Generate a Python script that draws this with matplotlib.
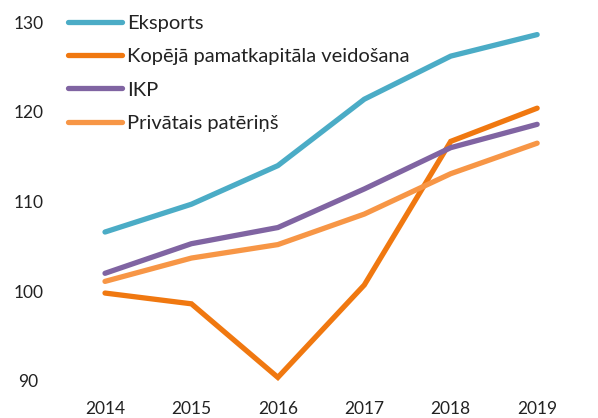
import matplotlib.pyplot as plt

years = [2014, 2015, 2016, 2017, 2018, 2019]
eksports = [106.6, 109.7, 114.0, 121.4, 126.2, 128.6]
kapitals = [99.8, 98.6, 90.4, 100.7, 116.7, 120.4]
ikp = [102.0, 105.3, 107.1, 111.4, 116.0, 118.6]
paterins = [101.1, 103.7, 105.2, 108.6, 113.1, 116.5]

labels = ["Eksports", "Kopējā pamatkapitāla veidošana", "IKP", "Privātais patēriņš"]
colors = ["#4BACC6", "#F07810", "#8064A2", "#F79646"]

plt.rcParams['font.family'] = ['Lato', 'DejaVu Sans']

fig = plt.figure(figsize=(5.98, 4.18), dpi=100)
ax = fig.add_axes([70 / 598, 1 - 395 / 418, 500 / 598, 385 / 418])

for vals, lab, col in zip([eksports, kapitals, ikp, paterins], labels, colors):
    ax.plot(years, vals, color=col, lw=3.8, label=lab, solid_capstyle='round',
            solid_joinstyle='miter')

ax.set_xlim(2013.595, 2019.38)
ax.set_ylim(88.44, 131.34)
ax.set_yticks([90, 100, 110, 120, 130])
ax.set_xticks(years)
for s in ax.spines.values():
    s.set_visible(False)
ax.tick_params(length=0, labelsize=12.5, colors='#222222')
ax.tick_params(axis='y', pad=30)
ax.tick_params(axis='x', pad=4)
for t in ax.get_yticklabels():
    t.set_horizontalalignment('center')

leg = ax.legend(loc='upper left', bbox_to_anchor=(68 / 598, 1 - 15 / 418),
                bbox_transform=fig.transFigure, frameon=False, fontsize=14.5,
                handlelength=2.7, handletextpad=0.25, labelspacing=0.8,
                borderaxespad=0, borderpad=0)
for t in leg.get_texts():
    t.set_color('#222222')

fig.savefig('out.png', dpi=100)
